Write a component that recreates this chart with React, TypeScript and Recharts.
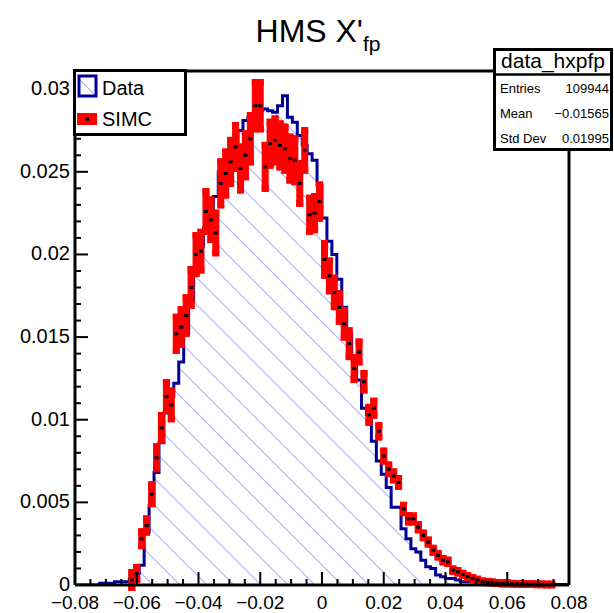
import React from "react";
import { ComposedChart, Area, Scatter, ErrorBar, XAxis, YAxis, ReferenceLine } from "recharts";

const FONT = "'Liberation Sans', Arial, Helvetica, sans-serif";

// histogram binning (100 bins on the x axis range)
const X_MIN = -0.08;
const X_MAX = 0.08;
const N_BINS = 100;
const Y_MAX = 0.0311;

const xLabelTicks = [-0.08, -0.06, -0.04, -0.02, 0, 0.02, 0.04, 0.06, 0.08];
const yLabelTicks = [0, 0.005, 0.01, 0.015, 0.02, 0.025, 0.03];

// data_hxpfp, normalised content per bin
const dataCounts = [
  0, 0, 0, 0, 0, 0.0001, 0.0001, 0.0001, 0.0002, 0.0002,
  0.0002, 0.0004, 0.0007, 0.0012, 0.0032, 0.0048, 0.0068, 0.0086, 0.0104, 0.0114,
  0.0122, 0.0135, 0.0152, 0.0172, 0.019, 0.0205, 0.0216, 0.0226, 0.0235, 0.025,
  0.0257, 0.0262, 0.0268, 0.0275, 0.0281, 0.0283, 0.0285, 0.0287, 0.0288, 0.0287,
  0.0286, 0.029, 0.0296, 0.0283, 0.028, 0.0272, 0.0266, 0.0261, 0.0257, 0.0242,
  0.0222, 0.0208, 0.02, 0.0185, 0.0168, 0.0152, 0.0138, 0.0124, 0.0107, 0.0103,
  0.0087, 0.0075, 0.0067, 0.0059, 0.0047, 0.0047, 0.0034, 0.0028, 0.0022, 0.002,
  0.0015, 0.0011, 0.001, 0.0006, 0.0005, 0.0004, 0.0004, 0.0003, 0.0002, 0.0002,
  0.0002, 0.0001, 0.0001, 0.0001, 0.0001, 0.0001, 0.00005, 0.00005, 0.00005, 0.00003,
  0.00003, 0.00003, 0.00003, 0.00003, 0.00003, 0.00003, 0.00003, 0.00003, 0.00003, 0.00003,
];

// SIMC, normalised content per bin (null = empty bin)
const simcCounts = [
  null, null, null, null, null, null, null, null, null, null,
  null, 0.0003, 0.0007, 0.0028, 0.0036, 0.0055, 0.0077, 0.0095, 0.0114, 0.0109,
  0.0152, 0.0156, 0.0163, 0.018, 0.02, 0.0202, 0.0226, 0.0221, 0.0213, 0.0243,
  0.0249, 0.0256, 0.0265, 0.0252, 0.026, 0.027, 0.029, 0.029, 0.0253, 0.0267,
  0.0269, 0.0266, 0.0264, 0.0258, 0.0257, 0.0243, 0.0263, 0.0224, 0.0225, 0.0232,
  0.0197, 0.0187, 0.0177, 0.0168, 0.0158, 0.0146, 0.0131, 0.0141, 0.0123, 0.0103,
  0.0107, 0.0093, 0.0078, 0.007, 0.0066, 0.0062, 0.0046, 0.004, 0.004, 0.0035,
  0.003, 0.0026, 0.0021, 0.0018, 0.0015, 0.0014, 0.0009, 0.0008, 0.00065, 0.0005,
  0.0004, 0.0003, 0.0002, 0.00018, 0.00015, 0.00012, 0.0001, 0.0001, 0.00008, 0.00007,
  0.00006, 0.00005, 0.00005, 0.00004, 0.00004, 0.00003, 0.00003, null, null, null,
];

// SIMC statistical error per bin
const simcErrors = [
  0, 0, 0, 0, 0, 0, 0, 0, 0, 0,
  0, 0.00045, 0.00036, 0.00042, 0.0004, 0.00056, 0.00066, 0.00075, 0.00084, 0.00084,
  0.001, 0.00105, 0.00108, 0.00108, 0.00114, 0.00114, 0.0012, 0.0012, 0.0012, 0.0013,
  0.0013, 0.0013, 0.0013, 0.0013, 0.0013, 0.0014, 0.0014, 0.0014, 0.0013, 0.0013,
  0.0013, 0.0013, 0.0013, 0.0013, 0.0013, 0.0012, 0.0012, 0.001, 0.001, 0.001,
  0.00096, 0.0009, 0.00086, 0.00084, 0.0008, 0.00078, 0.00066, 0.0006, 0.0005, 0.00045,
  0.00042, 0.00034, 0.0003, 0.00026, 0.00024, 0.00024, 0.00022, 0.00019, 0.00018, 0.00016,
  0.00014, 0.00012, 0.00012, 0.0001, 0.0001, 0.0001, 0.00007, 0.00007, 0.00006, 0.00006,
  0.00005, 0.00005, 0.00004, 0.00004, 0.00003, 0.00003, 0.00003, 0.00003, 0.00002, 0.00002,
  0.00002, 0.00002, 0.00002, 0.00002, 0.00002, 0.00002, 0.00002, 0, 0, 0,
];

const statsRows = [
  ["Entries", "109944"],
  ["Mean", "\u22120.01565"],
  ["Std Dev", "0.01995"],
];

const binWidth = (X_MAX - X_MIN) / N_BINS;
const r6 = (v: number) => Math.round(v * 1e6) / 1e6;

// step histogram: one point per left bin edge, plus the closing edge
const histRows = dataCounts.map((v, i) => ({ x: r6(X_MIN + i * binWidth), data: v }));
histRows.push({ x: X_MAX, data: dataCounts[N_BINS - 1] });

const simcRows = simcCounts.flatMap((v, i) =>
  v == null ? [] : [{ x: r6(X_MIN + (i + 0.5) * binWidth), simc: v, err: simcErrors[i] }]
);

// minor ticks subdivide the labelled ones
const subdivide = (majors: number[], n: number) => {
  const out: number[] = [];
  for (let i = 0; i < majors.length - 1; i++) {
    const step = (majors[i + 1] - majors[i]) / n;
    for (let k = 0; k < n; k++) out.push(r6(majors[i] + k * step));
  }
  out.push(majors[majors.length - 1]);
  return out;
};
const xTicks = subdivide(xLabelTicks, 4);
const yTicks = [...subdivide(yLabelTicks, 5), 0.031];

const isMajor = (v: number, list: number[]) => list.some((m) => Math.abs(m - v) < 1e-7);
const fmt = (v: number) => (v < 0 ? "\u2212" + String(-v) : String(v));

const XTick = (props: any) => {
  const { x, y, payload } = props;
  const major = isMajor(payload.value, xLabelTicks);
  return (
    <g>
      <line x1={x} x2={x} y1={y} y2={y - (major ? 13 : 6)} stroke="#000" strokeWidth={2} />
      {major && (
        <text x={x} y={y + 24} textAnchor="middle" fontSize={19} fontFamily={FONT} fill="#000">
          {fmt(payload.value)}
        </text>
      )}
    </g>
  );
};

const YTick = (props: any) => {
  const { x, y, payload } = props;
  const major = isMajor(payload.value, yLabelTicks);
  return (
    <g>
      <line x1={x} x2={x + (major ? 13 : 6)} y1={y} y2={y} stroke="#000" strokeWidth={2} />
      {major && (
        <text x={x - 5} y={y + 6} textAnchor="end" fontSize={20} fontFamily={FONT} fill="#000">
          {fmt(payload.value)}
        </text>
      )}
    </g>
  );
};

const SimcMarker = (props: any) => {
  const { cx, cy } = props;
  if (cx == null || cy == null) return <g />;
  return <rect x={cx - 2} y={cy - 1.5} width={4} height={3} fill="#000" />;
};

export default function App() {
  return (
    <div style={{ position: "absolute", left: 0, top: 0, width: 614, height: 613, background: "#fff" }}>
      <ComposedChart width={614} height={613} margin={{ top: 71, right: 45, bottom: 0, left: 0 }}>
        <defs>
          <pattern id="hatch" patternUnits="userSpaceOnUse" width={27} height={27}>
            <path d="M0,0 L27,27 M-6,21 L6,33 M21,-6 L33,6" stroke="#aeb1f7" strokeWidth={1.2} />
          </pattern>
        </defs>
        <XAxis
          type="number"
          dataKey="x"
          domain={[X_MIN, X_MAX]}
          ticks={xTicks}
          interval={0}
          allowDataOverflow
          tick={(p: any) => <XTick {...p} />}
          tickLine={false}
          tickSize={0}
          tickMargin={0}
          height={28}
          axisLine={{ stroke: "#000", strokeWidth: 3 }}
        />
        <YAxis
          type="number"
          domain={[0, Y_MAX]}
          ticks={yTicks}
          interval={0}
          allowDataOverflow
          tick={(p: any) => <YTick {...p} />}
          tickLine={false}
          tickSize={0}
          tickMargin={0}
          width={75}
          axisLine={{ stroke: "#000", strokeWidth: 3 }}
        />
        <Area
          data={histRows}
          type="stepAfter"
          dataKey="data"
          stroke="#000099"
          strokeWidth={3}
          fill="url(#hatch)"
          fillOpacity={1}
          dot={false}
          activeDot={false}
          isAnimationActive={false}
        />
        <Scatter data={simcRows} dataKey="simc" shape={(p: any) => <SimcMarker {...p} />} isAnimationActive={false}>
          <ErrorBar
            dataKey="err"
            direction="y"
            width={0}
            stroke="#ff0000"
            strokeWidth={7}
            strokeLinecap="square"
          />
        </Scatter>
        <ReferenceLine y={Y_MAX} stroke="#000" strokeWidth={3} />
        <ReferenceLine x={X_MAX} stroke="#000" strokeWidth={3} />
      </ComposedChart>

      <svg
        width={614}
        height={613}
        style={{ position: "absolute", left: 0, top: 0, pointerEvents: "none" }}
        fontFamily={FONT}
      >
        <defs>
          <pattern id="hatchLegend" patternUnits="userSpaceOnUse" width={24} height={24}>
            <path d="M0,0 L24,24 M-6,18 L6,30 M18,-6 L30,6" stroke="#aeb1f7" strokeWidth={1.2} />
          </pattern>
        </defs>
        <text x={318} y={42} textAnchor="middle" fontSize={32} fill="#000">
          HMS X'<tspan fontSize={21} dy={9}>fp</tspan>
        </text>

        {/* legend */}
        <rect x={74.5} y={70.5} width={111} height={64} fill="#fff" stroke="#000" strokeWidth={3} />
        <rect x={79} y={76} width={17} height={20} fill="url(#hatchLegend)" stroke="#000099" strokeWidth={3} />
        <text x={102} y={95} fontSize={20} fill="#000">Data</text>
        <rect x={77} y={113} width={20} height={12} fill="#ff0000" />
        <rect x={85} y={117.5} width={4} height={3} fill="#000" />
        <text x={102} y={126} fontSize={20} fill="#000">SIMC</text>

        {/* stats box */}
        <rect x={494.5} y={49.5} width={117} height={100} fill="#fff" stroke="#000" strokeWidth={3} />
        <line x1={494} x2={612} y1={74.5} y2={74.5} stroke="#000" strokeWidth={2.5} />
        <text x={553} y={68} textAnchor="middle" fontSize={21} fill="#000">data_hxpfp</text>
        {statsRows.map(([label, value], i) => (
          <g key={label}>
            <text x={500} y={93 + i * 25} fontSize={13} fill="#000">{label}</text>
            <text x={609} y={93 + i * 25} fontSize={13} textAnchor="end" fill="#000">{value}</text>
          </g>
        ))}
      </svg>
    </div>
  );
}
